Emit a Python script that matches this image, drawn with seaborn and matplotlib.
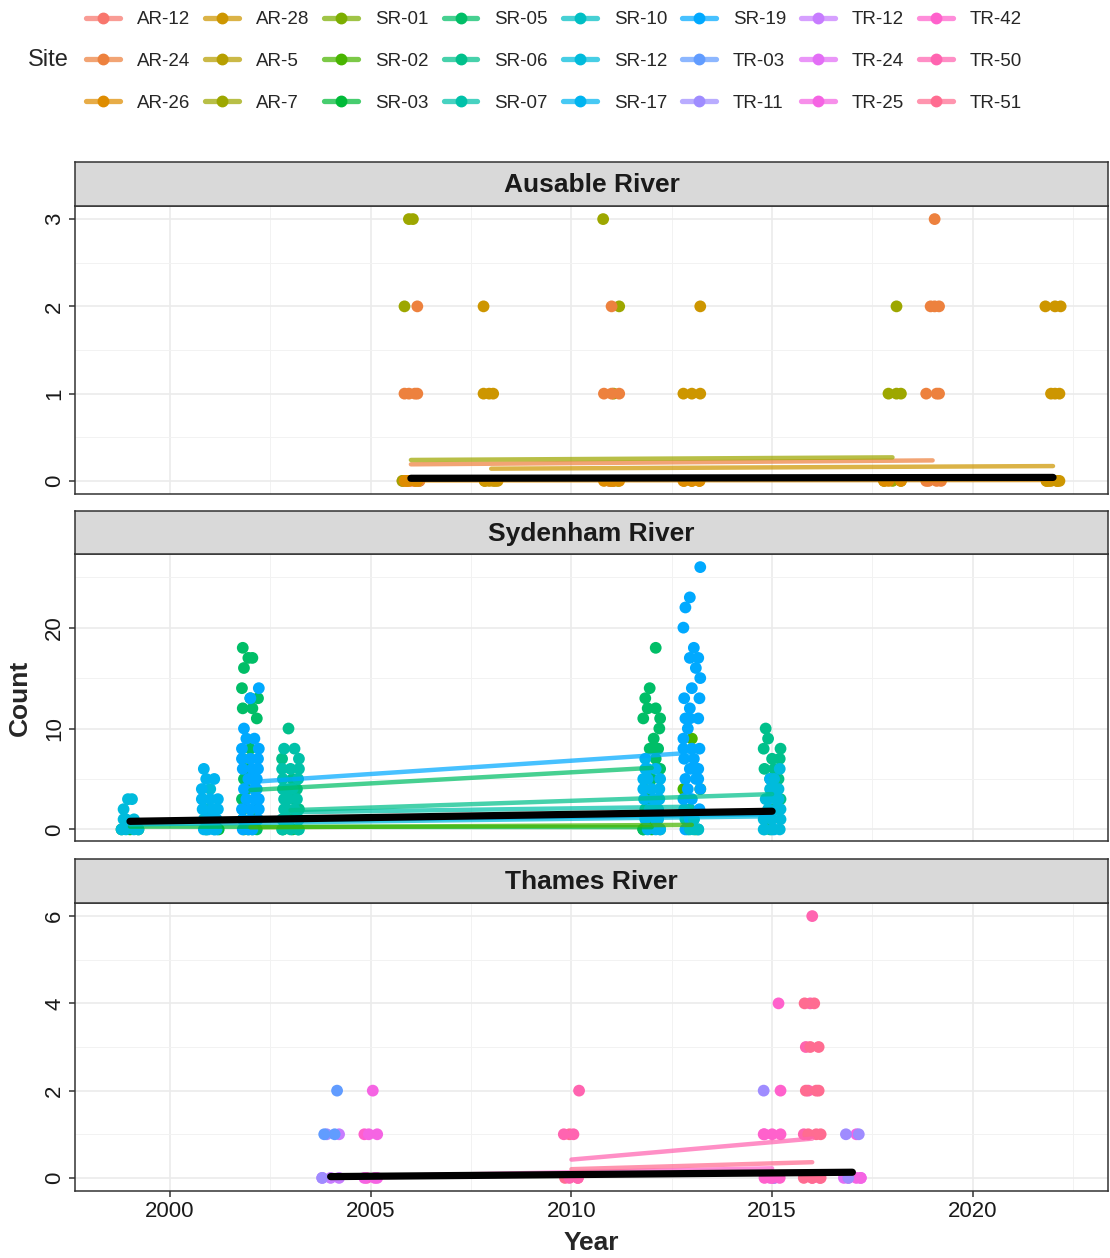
import numpy as np
import pandas as pd
import matplotlib
matplotlib.use("Agg")
import matplotlib.pyplot as plt
import seaborn as sns
from matplotlib.lines import Line2D
from matplotlib.ticker import MultipleLocator

# ---------------- data ----------------
RIVERS = ["Ausable River", "Sydenham River", "Thames River"]
SITES = ["AR-12", "AR-24", "AR-26", "AR-28", "AR-5", "AR-7",
         "SR-01", "SR-02", "SR-03", "SR-05", "SR-06", "SR-07",
         "SR-10", "SR-12", "SR-17", "SR-19",
         "TR-03", "TR-11", "TR-12", "TR-24", "TR-25", "TR-42", "TR-50", "TR-51"]

# Ausable River: one entry per (site, year) sampling group, with the counts observed
AR_SITE = ["AR-12", "AR-7", "AR-24", "AR-26", "AR-5", "AR-28", "AR-7", "AR-24",
           "AR-26", "AR-28", "AR-26", "AR-7", "AR-26", "AR-24", "AR-26", "AR-28"]
AR_YEAR = [2006, 2006, 2006, 2006, 2008, 2008, 2011, 2011,
           2011, 2013, 2013, 2018, 2018, 2019, 2022, 2022]
AR_COUNTS = [[0, 0], [3, 3, 2, 0, 0], [2, 1, 1, 1, 1, 0, 0, 0], [0, 0, 0, 0, 0],
             [0, 0], [2, 1, 1, 1, 0, 0, 0, 0], [3, 2, 1, 0, 0],
             [2, 1, 1, 1, 0, 0], [0, 0, 0, 0], [2, 1, 1, 1, 0, 0, 0], [0, 0, 0],
             [2, 1, 1, 1, 0, 0, 0], [0, 0, 0], [3, 2, 2, 2, 1, 1, 1, 0, 0, 0, 0],
             [0, 0, 0], [2, 2, 2, 1, 1, 1, 0, 0, 0, 0]]

# Sydenham River
SR_SITE = ["SR-03", "SR-12", "SR-03", "SR-12", "SR-17",
           "SR-02", "SR-05", "SR-19",
           "SR-03", "SR-06", "SR-07",
           "SR-03", "SR-05", "SR-17",
           "SR-07", "SR-02", "SR-19", "SR-10",
           "SR-06", "SR-17", "SR-12"]
SR_YEAR = [1999, 1999, 2001, 2001, 2001,
           2002, 2002, 2002,
           2003, 2003, 2003,
           2012, 2012, 2012,
           2013, 2013, 2013, 2013,
           2015, 2015, 2015]
SR_COUNTS = [[0, 0, 0], [3, 3, 2, 1, 1, 1, 0, 0, 0, 0],
             [0, 0], [4, 3, 2, 1, 0, 0],
             [6, 5, 5, 4, 3, 3, 3, 2, 2, 2, 1, 1, 1, 0, 0, 0, 0],
             [2, 0],
             [18, 17, 17, 16, 14, 13, 13, 12, 12, 11, 8, 7, 6, 5, 4, 4, 3, 2, 1, 1, 0, 0, 0],
             [14, 13, 10, 9, 9, 8, 8, 7, 7, 7, 6, 6, 6, 5, 5, 5, 4, 4, 4, 3, 3, 3,
              2, 2, 2, 1, 1, 1, 0, 0, 0],
             [0, 0], [10, 7, 5, 4, 3, 2, 1, 0, 0],
             [8, 8, 7, 6, 6, 6, 5, 5, 4, 4, 4, 3, 3, 3, 2, 2, 2, 1, 1, 1, 0, 0, 0, 0],
             [0, 0],
             [18, 14, 13, 12, 12, 11, 11, 10, 9, 8, 8, 8, 7, 6, 5, 4, 3, 2, 1, 0, 0],
             [7, 6, 6, 6, 5, 5, 5, 4, 4, 4, 3, 3, 3, 2, 2, 2, 1, 1, 1, 0, 0, 0],
             [2, 1, 0], [9, 4, 4, 0],
             [26, 23, 22, 20, 18, 17, 17, 16, 15, 14, 13, 13, 12, 11, 11, 11, 10, 9,
              8, 8, 8, 7, 7, 6, 6, 6, 5, 5, 5, 4, 4, 3, 3, 2, 2, 1, 1, 0, 0],
             [1, 0, 0, 0],
             [10, 9, 8, 8, 7, 7, 6, 6, 5, 5, 4, 3, 2, 1, 0],
             [5, 3, 0],
             [6, 5, 4, 4, 4, 3, 3, 3, 2, 2, 2, 1, 1, 1, 0, 0, 0, 0]]

# Thames River
TR_SITE = ["TR-12", "TR-11", "TR-03", "TR-42", "TR-25", "TR-51", "TR-50",
           "TR-25", "TR-11", "TR-42", "TR-50", "TR-51", "TR-24", "TR-25", "TR-11"]
TR_YEAR = [2004, 2004, 2004, 2005, 2005, 2010, 2010,
           2015, 2015, 2015, 2016, 2016, 2017, 2017, 2017]
TR_COUNTS = [[1, 0, 0, 0], [1, 0], [2, 1, 1], [1, 0], [2, 1, 1, 0, 0, 0],
             [1, 0, 0], [2, 1, 1, 0, 0],
             [1, 0, 0], [2, 0], [4, 2, 1, 1, 1, 0, 0, 0],
             [6, 4, 3, 2, 1, 0, 0], [4, 4, 3, 3, 2, 2, 2, 1, 1, 1, 0, 0, 0],
             [0, 0], [1, 0, 0, 0], [1, 1, 0]]

# Fitted per-site trends (start and end of each fitted line)
TREND_RIVER = (["Ausable River"] * 8 + ["Sydenham River"] * 18 + ["Thames River"] * 8)
TREND_SITE = ["AR-26", "AR-26", "AR-28", "AR-28", "AR-24", "AR-24", "AR-7", "AR-7",
              "SR-03", "SR-03", "SR-02", "SR-02", "SR-12", "SR-12", "SR-17", "SR-17",
              "SR-07", "SR-07", "SR-06", "SR-06", "SR-05", "SR-05", "SR-19", "SR-19",
              "SR-10", "SR-10",
              "TR-25", "TR-25", "TR-42", "TR-42", "TR-51", "TR-51", "TR-50", "TR-50"]
TREND_YEAR = [2006, 2022, 2008, 2022, 2006, 2019, 2006, 2018,
              1999, 2012, 2002, 2013, 1999, 2015, 2001, 2015,
              2003, 2013, 2003, 2015, 2002, 2012, 2002, 2013,
              2013, 2013,
              2005, 2017, 2005, 2015, 2010, 2016, 2010, 2016]
TREND_FIT = [0.005, 0.01, 0.14, 0.17, 0.19, 0.235, 0.24, 0.27,
             0.28, 0.22, 0.2, 0.45, 0.5, 1.3, 0.8, 1.5,
             1.7, 2.25, 1.9, 3.5, 3.9, 6.1, 4.7, 7.6,
             0.2, 0.2,
             0.02, 0.12, 0.04, 0.22, 0.2, 0.36, 0.42, 0.9]

# Overall (all sites) trend per river
OVERALL_RIVER = ["Ausable River", "Ausable River", "Sydenham River", "Sydenham River",
                 "Thames River", "Thames River"]
OVERALL_YEAR = [2006, 2022, 1999, 2015, 2004, 2017]
OVERALL_FIT = [0.03, 0.04, 0.8, 1.8, 0.03, 0.13]

X_TICKS = [2000, 2005, 2010, 2015, 2020]
Y_TICKS = {"Ausable River": [0, 1, 2, 3],
           "Sydenham River": [0, 10, 20],
           "Thames River": [0, 2, 4, 6]}


# ---------------- colours (ggplot2 hue palette) ----------------
def hcl_hex(h, c=100.0, l=65.0):
    Xn, Yn, Zn = 95.047, 100.0, 108.883
    t = Xn + Yn + Zn
    x, y = Xn / t, Yn / t
    uN = 2 * x / (6 * y - x + 1.5)
    vN = 4.5 * y / (6 * y - x + 1.5)
    hr = np.deg2rad(h)
    U, V = c * np.cos(hr), c * np.sin(hr)
    Y = Yn * ((l + 16) / 116) ** 3
    u = U / (13 * l) + uN
    v = V / (13 * l) + vN
    X = 9.0 * Y * u / (4 * v)
    Z = -X / 3 - 5 * Y + 3 * Y / v
    X, Y, Z = X / 100, Y / 100, Z / 100
    rgb = [3.240479 * X - 1.537150 * Y - 0.498535 * Z,
           -0.969256 * X + 1.875992 * Y + 0.041556 * Z,
           0.055648 * X - 0.204043 * Y + 1.057311 * Z]
    out = []
    for ch in rgb:
        ch = 12.92 * ch if ch <= 0.0031308 else 1.055 * ch ** (1 / 2.4) - 0.055
        out.append(min(max(ch, 0), 1))
    return matplotlib.colors.to_hex(out)


n = len(SITES)
PALETTE = {s: hcl_hex(15 + 360.0 * i / n) for i, s in enumerate(SITES)}

# ---------------- build tables ----------------
JIT = [0.0, -0.21, 0.21, -0.1, 0.1, -0.16, 0.16, -0.05, 0.05, -0.19, 0.19]
rows = []
for river, sites, years, counts in [("Ausable River", AR_SITE, AR_YEAR, AR_COUNTS),
                                    ("Sydenham River", SR_SITE, SR_YEAR, SR_COUNTS),
                                    ("Thames River", TR_SITE, TR_YEAR, TR_COUNTS)]:
    for g, (s, yr, cl) in enumerate(zip(sites, years, counts)):
        seen = {}
        for v in cl:
            j = seen.get(v, 0)
            seen[v] = j + 1
            off = JIT[(j + 2 * v + g) % len(JIT)]
            rows.append((river, s, yr, yr + off, v))
obs = pd.DataFrame(rows, columns=["River", "Site", "Year", "X", "Count"])
trend = pd.DataFrame({"River": TREND_RIVER, "Site": TREND_SITE,
                      "Year": TREND_YEAR, "Fit": TREND_FIT})
overall = pd.DataFrame({"River": OVERALL_RIVER, "Year": OVERALL_YEAR, "Fit": OVERALL_FIT})

# ---------------- figure ----------------
sns.set_style("white")
plt.rcParams["font.family"] = ["Liberation Sans", "DejaVu Sans"]

W, H = 1110, 1258
fig = plt.figure(figsize=(W / 100, H / 100), dpi=100)


def frac(left, top, right, bottom):
    return [left / W, 1 - bottom / H, (right - left) / W, (bottom - top) / H]


PANELS = [(206, 494), (554, 841), (903, 1191)]
STRIPS = [(162, 206), (511, 554), (859, 903)]
YLIMS = {"Ausable River": (-0.15, 3.15), "Sydenham River": (-1.15, 27.3),
         "Thames River": (-0.3, 6.3)}
YMINOR = {"Ausable River": 0.5, "Sydenham River": 5, "Thames River": 1}
BORDER = "#333333"

for k, river in enumerate(RIVERS):
    ax = fig.add_axes(frac(75, PANELS[k][0], 1108, PANELS[k][1]))
    ax.set_facecolor("white")
    sub = obs[obs.River == river]
    sns.scatterplot(data=sub, x="X", y="Count", hue="Site", palette=PALETTE,
                    s=72, linewidth=0, legend=False, ax=ax, zorder=3)
    tsub = trend[trend.River == river]
    sns.lineplot(data=tsub, x="Year", y="Fit", hue="Site", palette=PALETTE,
                 estimator=None, errorbar=None, lw=3.2, alpha=0.72,
                 legend=False, ax=ax, zorder=4)
    osub = overall[overall.River == river]
    sns.lineplot(data=osub, x="Year", y="Fit", color="black", estimator=None,
                 errorbar=None, lw=5.2, legend=False, ax=ax, zorder=5)

    ax.set_xlim(1997.63, 2023.37)
    ax.set_ylim(*YLIMS[river])
    ax.set_xticks(X_TICKS)
    ax.xaxis.set_minor_locator(MultipleLocator(2.5))
    ax.set_yticks(Y_TICKS[river])
    ax.yaxis.set_minor_locator(MultipleLocator(YMINOR[river]))
    ax.grid(which="major", color="#EBEBEB", lw=1.2, zorder=0)
    ax.grid(which="minor", color="#F2F2F2", lw=0.7, zorder=0)
    ax.set_axisbelow(True)
    for sp in ax.spines.values():
        sp.set_color(BORDER)
        sp.set_linewidth(1.1)
    ax.set_xlabel("")
    ax.set_ylabel("")
    ax.tick_params(axis="y", which="major", length=4, width=1.1, color=BORDER,
                   labelsize=16, labelcolor="#1a1a1a", pad=3, left=True)
    ax.tick_params(axis="both", which="minor", length=0)
    for lab in ax.get_yticklabels():
        lab.set_rotation(90)
        lab.set_va("center")
        lab.set_ha("right")
    if k < 2:
        ax.tick_params(axis="x", which="both", bottom=False, labelbottom=False)
    else:
        ax.tick_params(axis="x", which="major", length=4, width=1.1, color=BORDER,
                       labelsize=16, labelcolor="#1a1a1a", pad=3, bottom=True)

    sax = fig.add_axes(frac(75, STRIPS[k][0], 1108, STRIPS[k][1]))
    sax.set_facecolor("#D9D9D9")
    sax.set_xticks([])
    sax.set_yticks([])
    for sp in sax.spines.values():
        sp.set_color(BORDER)
        sp.set_linewidth(1.1)
    sax.text(0.5, 0.47, river, ha="center", va="center", fontsize=19,
             fontweight="bold", color="#1a1a1a", transform=sax.transAxes)

fig.text(591 / W, 1 - 1243 / H, "Year", ha="center", va="center",
         fontsize=19, fontweight="bold")
fig.text(20 / W, 1 - 698 / H, "Count", ha="center", va="center", rotation=90,
         fontsize=19, fontweight="bold")

# legend
handles = []
for s in SITES:
    ln = Line2D([], [], color=PALETTE[s], lw=3.8, alpha=0.72)
    mk = Line2D([], [], color=PALETTE[s], lw=0, marker="o", markersize=7.5)
    handles.append((ln, mk))
fig.legend(handles, SITES, ncol=8, loc="upper left",
           bbox_to_anchor=(86 / W, 1 - 11 / H), frameon=False, fontsize=13.5,
           handlelength=1.8, handletextpad=0.9, columnspacing=0.81,
           labelspacing=1.31, borderpad=0, borderaxespad=0)
fig.text(28 / W, 1 - 60 / H, "Site", ha="left", va="center", fontsize=17)

fig.savefig("out.png", dpi=100)
